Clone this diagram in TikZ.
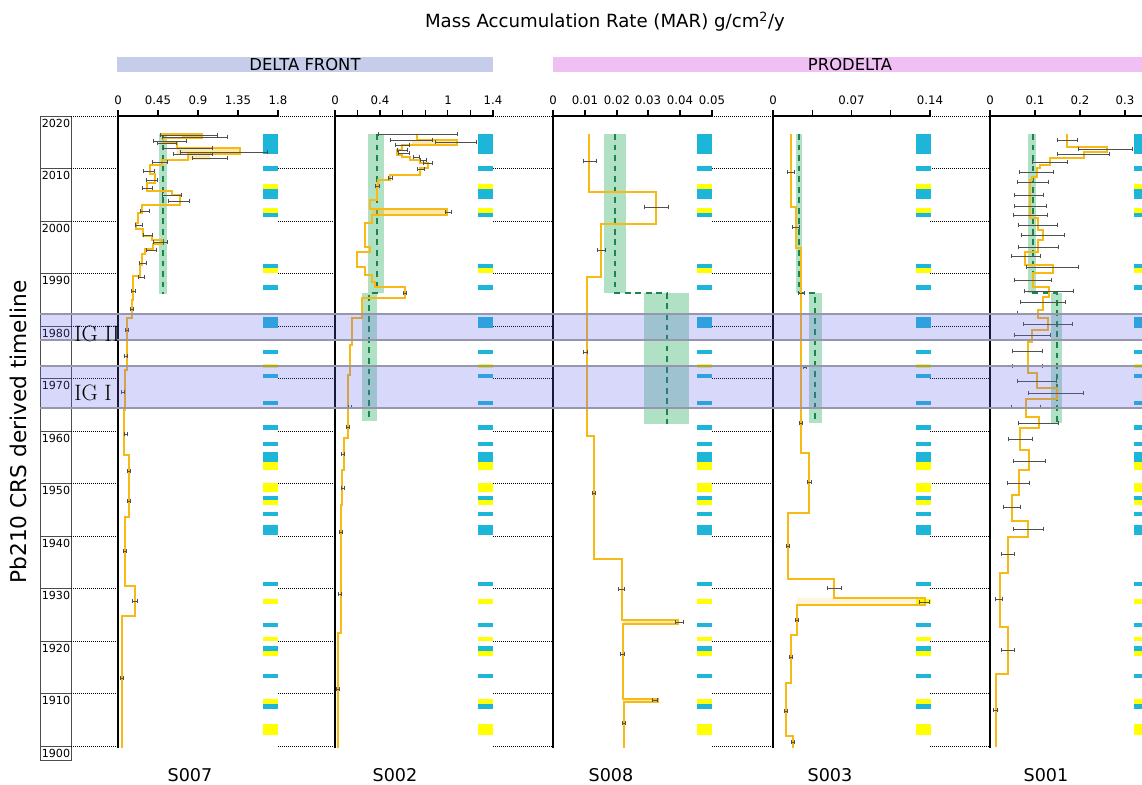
\documentclass[tikz,border=0pt]{standalone}
\usepackage{fontspec}
\newfontfamily\dv{DejaVu Sans}
\usetikzlibrary{arrows.meta}

\definecolor{mar}{RGB}{247,185,20}
\definecolor{errgray}{RGB}{80,80,80}
\definecolor{cyanbar}{RGB}{30,182,216}
\definecolor{yellowbar}{RGB}{255,255,0}
\definecolor{meangreen}{RGB}{25,135,75}
\definecolor{bandgreen}{RGB}{100,195,140}
\definecolor{igfill}{RGB}{100,100,240}
\definecolor{igline}{RGB}{150,150,172}
\definecolor{deltafill}{RGB}{197,205,235}
\definecolor{prodeltafill}{RGB}{240,192,245}

\tikzset{
  curve/.style={draw=mar, line width=1.2pt},
  hilite/.style={fill=mar, fill opacity=0.35},
  errbar/.style={draw=errgray, line width=0.65pt, {Bar[width=4pt]}-{Bar[width=4pt]}},
  meanline/.style={draw=meangreen, line width=1.2pt, dash pattern=on 5pt off 4pt},
  greenband/.style={fill=bandgreen, fill opacity=0.5},
  decade/.style={densely dotted, line width=0.7pt},
  yrline/.style={draw=black!70, line width=0.7pt},
  axis/.style={draw=black, line width=1.1pt},
  ticklab/.style={font=\dv\fontsize{10}{11}\selectfont, inner sep=0pt},
  yrlab/.style={font=\dv\fontsize{9.5}{10}\selectfont, inner sep=0pt},
  corelab/.style={font=\dv\fontsize{15}{17}\selectfont},
  zonelab/.style={font=\dv\fontsize{14}{16}\selectfont, inner sep=0pt},
  iglab/.style={font=\rmfamily\fontsize{19}{21}\selectfont, inner sep=0pt}
}

\begin{document}
\begin{tikzpicture}[x=0.03cm, y=-0.03cm, font=\dv]
  % canvas
  \useasboundingbox (0,0) rectangle (1142,785);
  \clip (0,0) rectangle (1142,785);

  % title and zone headers
  \node[font=\dv\fontsize{15.5}{18}\selectfont] (title) at (605,22) {Mass Accumulation Rate (MAR) g/cm\textsuperscript{2}/y};
  \fill[deltafill] (117,57) rectangle (493,72);
  \node[zonelab] (delta) at (305,64.5) {DELTA FRONT};
  \fill[prodeltafill] (553,57) rectangle (1142,72);
  \node[zonelab] (prodelta) at (850,64.5) {PRODELTA};

  % timeline box
  \node[rotate=90, font=\dv\fontsize{18.5}{20}\selectfont] (ylab) at (18,432) {Pb210 CRS derived timeline};
  \draw[yrline] (40,116) rectangle (71,760);
  \foreach \yr [evaluate=\yr as \yy using {116+(2020-\yr)*5.25}] in {2020,2010,...,1900} {
    \draw[yrline] (40,\yy) -- (71,\yy);
    \node[yrlab] (yr\yr) at (56,\yy+7) {\yr};
    \draw[decade] (71,\yy) -- (116,\yy);
    \foreach \a/\b in {278/333, 493/551, 712/771, 930/988}
      \draw[decade] (\a,\yy) -- (\b,\yy);
  }

  % facies bars (same in every core)
  \foreach \bx in {263,478,697,916,1134} {
    \foreach \ya/\yb/\c in {134/154/cyanbar, 166/171/cyanbar, 184/189/yellowbar, 189/199/cyanbar,
        208/213/yellowbar, 213/217/cyanbar, 264/268/cyanbar, 268/273/yellowbar, 285/290/cyanbar,
        317/328/cyanbar, 350/354/cyanbar, 364/368/yellowbar, 374/378/cyanbar, 401/405/cyanbar,
        425/430/cyanbar, 442/446/cyanbar, 452/462/cyanbar, 462/470/yellowbar, 483/492/yellowbar,
        496/500/cyanbar, 500/505/yellowbar, 512/516/cyanbar, 525/535/cyanbar, 582/586/cyanbar,
        599/604/yellowbar, 623/627/cyanbar, 637/641/yellowbar, 646/651/cyanbar, 651/656/yellowbar,
        674/678/cyanbar, 699/704/yellowbar, 704/709/cyanbar, 724/735/yellowbar}
      \fill[\c] (\bx,\ya) rectangle (\bx+15,\yb);
  }

  % mean MAR ranges
  \fill[greenband] (159,134) rectangle (167,294);
  \draw[meanline] (163,134) -- (163,294);
  \foreach \xa/\xb/\xm/\xc/\xd/\xn/\yb in {368/384/377/362/377/369/421, 604/626/615/644/689/667/424,
      796/802/799/809/822/815/423, 1028/1036/1033/1051/1062/1057/423} {
    \fill[greenband] (\xa,134) rectangle (\xb,293);
    \fill[greenband] (\xc,293) rectangle (\xd,\yb);
    \draw[meanline] (\xm,134) -- (\xm,293) -- (\xn,293) -- (\xn,\yb);
  }

  % S007
  \fill[hilite] (177,148) rectangle (240,154);
  \fill[hilite] (188,155) rectangle (210,160);
  \fill[mar!80!orange, opacity=0.7] (182,133) rectangle (202,137);
  \draw[curve] (160,134) -- (202,134) -- (202,138) -- (163,138) -- (163,143) -- (177,143) -- (177,148)
    -- (240,148) -- (240,154) -- (188,154) -- (188,160) -- (162,160) -- (162,165) -- (150,165)
    -- (150,174) -- (155,174) -- (155,183) -- (147,183) -- (147,191) -- (172,191) -- (172,195)
    -- (180,195) -- (180,205) -- (142,205) -- (142,213) -- (138,213) -- (138,223) -- (136,223)
    -- (136,229) -- (143,229) -- (143,236) -- (152,236) -- (152,240) -- (162,240) -- (162,244)
    -- (153,244) -- (153,249) -- (145,249) -- (145,254) -- (142,254) -- (142,265) -- (140,265)
    -- (140,276) -- (133,276) -- (133,300) -- (132,300) -- (132,318) -- (127,318) -- (127,370)
    -- (125,370) -- (125,410) -- (124,410) -- (124,455) -- (129,455) -- (129,517) -- (125,517)
    -- (125,586) -- (135,586) -- (135,616) -- (122,616) -- (122,748);
  \foreach \a/\b/\y in {160/218/135, 162/228/137, 153/187/141, 157/177/143, 163/213/148, 180/268/152,
      173/213/154, 192/228/158, 152/168/162, 143/155/171, 146/158/180, 142/153/188, 162/182/195,
      168/190/201, 140/150/211, 135/143/225, 143/153/235, 153/168/242, 146/157/250, 139/147/263,
      138/145/277, 131/136/291, 130/134/309, 125/129/330, 124/128/356, 121/125/392, 124/128/434,
      127/131/471, 127/131/501, 123/127/551, 132/138/601, 120/124/678}
    \draw[errbar] (\a,\y) -- (\b,\y);

  % S002
  \fill[hilite] (412,140) rectangle (457,145);
  \fill[hilite] (372,209) rectangle (447,215);
  \draw[curve] (417,134) -- (417,140) -- (457,140) -- (457,145) -- (402,145) -- (402,150) -- (397,150)
    -- (397,155) -- (402,155) -- (402,157) -- (410,157) -- (410,160) -- (420,160) -- (420,163)
    -- (428,163) -- (428,168) -- (420,168) -- (420,175) -- (390,175) -- (390,180) -- (378,180)
    -- (378,185) -- (377,185) -- (377,200) -- (370,200) -- (370,209) -- (447,209) -- (447,215)
    -- (372,215) -- (372,223) -- (365,223) -- (365,247) -- (370,247) -- (370,252) -- (357,252)
    -- (357,267) -- (365,267) -- (365,275) -- (372,275) -- (372,282) -- (375,282) -- (375,287)
    -- (405,287) -- (405,298) -- (362,298) -- (362,318) -- (352,318) -- (352,345) -- (350,345)
    -- (350,375) -- (348,375) -- (348,438) -- (344,438) -- (344,470) -- (342,470) -- (342,505)
    -- (341,505) -- (341,633) -- (338,633) -- (338,748);
  \foreach \a/\b/\y in {378/458/134, 390/433/140, 435/477/142, 395/410/145, 397/408/150, 398/410/153,
      413/420/157, 420/427/160, 423/433/163, 417/425/169, 388/393/178, 375/380/186, 445/452/212,
      403/407/293, 348/352/407, 346/350/427, 341/345/454, 341/345/488, 339/343/532, 338/342/594,
      336/340/689}
    \draw[errbar] (\a,\y) -- (\b,\y);

  % S008
  \fill[hilite] (623,620) rectangle (678,624);
  \fill[hilite] (623,699) rectangle (658,702);
  \draw[curve] (589,134) -- (589,192) -- (656,192) -- (656,224) -- (601,224) -- (601,277) -- (587,277)
    -- (587,436) -- (594,436) -- (594,559) -- (622,559) -- (622,620) -- (678,620) -- (678,624)
    -- (623,624) -- (623,699) -- (658,699) -- (658,702) -- (624,702) -- (624,748);
  \foreach \a/\b/\y in {583/597/161, 644/669/207, 597/606/250, 583/588/352, 592/596/493, 618/625/589,
      675/684/622, 620/625/654, 652/658/700, 622/626/723}
    \draw[errbar] (\a,\y) -- (\b,\y);

  % S003
  \fill[mar, fill opacity=0.15] (797,598) rectangle (925,605);
  \draw[curve] (791,134) -- (791,207) -- (796,207) -- (796,248) -- (801,248) -- (801,453) -- (809,453)
    -- (809,513) -- (788,513) -- (788,579) -- (834,579) -- (834,598) -- (925,598) -- (925,605)
    -- (797,605) -- (797,635) -- (791,635) -- (791,683) -- (786,683) -- (786,736) -- (793,736)
    -- (793,748);
  \foreach \a/\b/\y in {787/795/172, 792/800/227, 798/805/293, 803/807/367, 799/803/423, 807/812/482,
      786/790/546, 827/842/588, 919/930/602, 795/799/620, 789/793/657, 784/788/711, 791/795/742}
    \draw[errbar] (\a,\y) -- (\b,\y);

  % S001
  \draw[curve] (1067,134) -- (1067,147) -- (1107,147) -- (1107,152) -- (1084,152) -- (1084,158)
    -- (1050,158) -- (1050,165) -- (1040,165) -- (1040,168) -- (1037,168) -- (1037,177) -- (1032,177)
    -- (1032,180) -- (1030,180) -- (1030,218) -- (1038,218) -- (1038,230) -- (1043,230) -- (1043,240)
    -- (1038,240) -- (1038,252) -- (1025,252) -- (1025,265) -- (1053,265) -- (1053,273) -- (1033,273)
    -- (1033,287) -- (1049,287) -- (1049,297) -- (1043,297) -- (1043,310) -- (1038,310) -- (1038,318)
    -- (1048,318) -- (1048,330) -- (1032,330) -- (1032,342) -- (1028,342) -- (1028,373) -- (1037,373)
    -- (1037,388) -- (1057,388) -- (1057,399) -- (1026,399) -- (1026,417) -- (1039,417) -- (1039,428)
    -- (1020,428) -- (1020,450) -- (1029,450) -- (1029,470) -- (1019,470) -- (1019,495) -- (1012,495)
    -- (1012,521) -- (1028,521) -- (1028,537) -- (1008,537) -- (1008,573) -- (1000,573) -- (1000,627)
    -- (1008,627) -- (1008,674) -- (996,674) -- (996,747);
  \foreach \a/\b/\y in {1057/1078/140, 1078/1133/149, 1057/1110/154, 1032/1068/162, 1019/1054/172,
      1017/1049/182, 1014/1044/195, 1014/1047/206, 1013/1048/215, 1018/1058/225, 1021/1065/235,
      1018/1059/247, 1011/1041/256, 1026/1079/267, 1014/1052/280, 1024/1074/291, 1020/1066/302,
      1017/1058/313, 1023/1073/324, 1014/1051/335, 1012/1043/351, 1012/1043/366, 1017/1057/381,
      1028/1084/393, 1011/1041/407, 1018/1059/423, 1008/1033/439, 1013/1046/461, 1007/1030/483,
      1003/1021/507, 1013/1044/529, 1001/1015/554, 995/1003/599, 1001/1015/650, 993/998/710}
    \draw[errbar] (\a,\y) -- (\b,\y);

  % axes
  \foreach \xa/\xb in {118/278, 335/493, 553/712, 773/930, 990/1150}
    \draw[axis] (\xa,748) -- (\xa,116) -- (\xb,116);
  \foreach \x/\t [count=\i] in {118/0, 158/0.45, 198/0.9, 238/1.35, 278/1.8} {
    \draw[axis] (\x,116) -- (\x,110);
    \node[ticklab] (ta\i) at (\x,100) {\t};
  }
  \foreach \k in {0,...,7}
    \draw[axis] (335+22.57*\k,116) -- (335+22.57*\k,110);
  \foreach \x/\t [count=\i] in {335/0, 380/0.4, 448/1, 493/1.4}
    \node[ticklab] (tb\i) at (\x,100) {\t};
  \foreach \x/\t [count=\i] in {553/0, 585/0.01, 617/0.02, 648/0.03, 680/0.04, 712/0.05} {
    \draw[axis] (\x,116) -- (\x,110);
    \node[ticklab] (tc\i) at (\x,100) {\t};
  }
  \foreach \k in {0,...,4}
    \draw[axis] (773+39.25*\k,116) -- (773+39.25*\k,110);
  \foreach \x/\t [count=\i] in {773/0, 851.5/0.07, 930/0.14}
    \node[ticklab] (td\i) at (\x,100) {\t};
  \foreach \x/\t [count=\i] in {990/0, 1035/0.1, 1080/0.2, 1125/0.3} {
    \draw[axis] (\x,116) -- (\x,110);
    \node[ticklab] (te\i) at (\x,100) {\t};
  }

  % core names
  \foreach \x/\s in {190/S007, 395/S002, 611/S008, 830/S003, 1046/S001}
    \node[corelab] (\s) at (\x,775) {\s};

  % intervals IG I and IG II
  \fill[igfill, fill opacity=0.25] (40,314) rectangle (1142,340);
  \fill[igfill, fill opacity=0.25] (40,366) rectangle (1142,408);
  \foreach \y in {314,340,366,408}
    \draw[igline, line width=1.2pt] (40,\y) -- (1142,\y);
  \node[iglab] (igii) at (97,334) {IG II};
  \node[iglab] (igi) at (93,393) {IG I};
\end{tikzpicture}
\end{document}
